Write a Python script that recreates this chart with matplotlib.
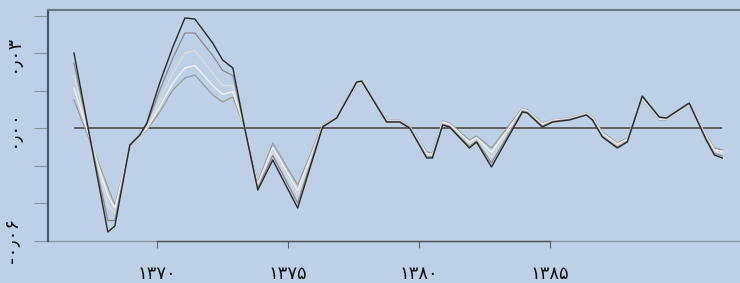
import matplotlib
matplotlib.use("Agg")
import matplotlib.pyplot as plt

plt.rcParams['font.family'] = ['DejaVu Sans']

# x positions (years, Persian calendar) of the line vertices
years = [1366.84, 1368.13, 1368.40, 1368.97, 1369.35, 1369.62, 1370.11, 1370.61,
         1371.07, 1371.45, 1372.13, 1372.51, 1372.90, 1373.35, 1373.85, 1374.42,
         1375.37, 1376.32, 1376.86, 1377.62, 1377.81, 1378.76, 1379.26, 1379.64,
         1380.29, 1380.51, 1380.90, 1381.16, 1381.92, 1382.19, 1382.76, 1383.94,
         1384.13, 1384.70, 1385.09, 1385.73, 1386.38, 1386.61, 1386.99, 1387.56,
         1387.94, 1388.51, 1389.16, 1389.43, 1390.30, 1390.95, 1391.26, 1391.56]

# outermost (dark) series
s_dark = [0.030, -0.0416, -0.0392, -0.0068, -0.0028, 0.0020, 0.018, 0.0324,
          0.044, 0.0436, 0.034, 0.0272, 0.024, 0.0, -0.0248, -0.0128,
          -0.032, 0.0004, 0.004, 0.0184, 0.0188, 0.0024, 0.0024, 0.0,
          -0.012, -0.012, 0.0012, 0.0004, -0.008, -0.0056, -0.0156, 0.0064,
          0.006, 0.0004, 0.0024, 0.0032, 0.0052, 0.0032, -0.0036, -0.008,
          -0.0056, 0.0128, 0.0044, 0.004, 0.010, -0.0048, -0.0108, -0.012]

s_mid1 = [0.026, -0.037, -0.037, -0.0072, -0.003, 0.0015, 0.015, 0.028,
          0.038, 0.038, 0.029, 0.023, 0.021, 0.0, -0.024, -0.011,
          -0.030, 0.0006, 0.0042, 0.0182, 0.0186, 0.0026, 0.0026, 0.0002,
          -0.0115, -0.0115, 0.0015, 0.0007, -0.0074, -0.0052, -0.014, 0.0068,
          0.0063, 0.0007, 0.0026, 0.0034, 0.0053, 0.0034, -0.0033, -0.0076,
          -0.0053, 0.0125, 0.0042, 0.0038, 0.0098, -0.0044, -0.0102, -0.0112]

s_mid2 = [0.021, -0.031, -0.034, -0.0075, -0.0032, 0.0006, 0.011, 0.022,
          0.030, 0.031, 0.022, 0.017, 0.017, 0.0, -0.0232, -0.0095,
          -0.027, 0.0008, 0.0042, 0.0178, 0.0182, 0.0028, 0.0028, 0.0004,
          -0.0108, -0.011, 0.002, 0.0012, -0.0064, -0.0044, -0.0118, 0.0072,
          0.0066, 0.0012, 0.0029, 0.0036, 0.0056, 0.0038, -0.0026, -0.0068,
          -0.0048, 0.012, 0.0038, 0.0036, 0.0095, -0.0036, -0.0094, -0.0100]

s_mid3 = [0.016, -0.027, -0.032, -0.0078, -0.0034, -0.0002, 0.0085, 0.018,
          0.024, 0.025, 0.017, 0.0135, 0.0145, 0.0, -0.0224, -0.0078,
          -0.025, 0.001, 0.0043, 0.0175, 0.0179, 0.003, 0.003, 0.0006,
          -0.0102, -0.0105, 0.0024, 0.0016, -0.0056, -0.0038, -0.0098, 0.0076,
          0.0069, 0.0016, 0.0031, 0.0038, 0.0058, 0.0041, -0.0021, -0.0064,
          -0.0044, 0.0116, 0.0035, 0.0034, 0.0093, -0.0032, -0.0087, -0.0094]

# innermost series
s_light = [0.0112, -0.0236, -0.0308, -0.008, -0.0036, -0.0008, 0.0064, 0.0152,
           0.020, 0.0212, 0.0132, 0.0104, 0.0124, 0.0, -0.0216, -0.006,
           -0.0228, 0.0012, 0.0044, 0.0172, 0.0176, 0.0032, 0.0032, 0.0008,
           -0.0096, -0.010, 0.0028, 0.002, -0.0048, -0.0032, -0.008, 0.008,
           0.0072, 0.002, 0.0032, 0.004, 0.006, 0.0044, -0.0016, -0.006,
           -0.004, 0.0112, 0.0032, 0.0032, 0.0092, -0.0028, -0.008, -0.0088]

x_ticks = [1370, 1375, 1380, 1385]
x_labels = ['۱۳۷۰', '۱۳۷۵', '۱۳۸۰', '۱۳۸۵']
y_ticks = [0.045, 0.03, 0.015, 0.0, -0.015, -0.03, -0.045]
y_labels = ['', '۰٫۰۳', '', '۰٫۰۰', '', '', '-۰٫۰۶']

bg = '#bdd0e6'
fig = plt.figure(figsize=(7.40, 2.83), dpi=100, facecolor=bg)
ax = fig.add_axes([48/740, (283-241)/283, (760-48)/740, (241-10)/283])
ax.set_facecolor(bg)

series = [(s_light, '#9a9a9a', 0.9), (s_mid3, '#f2f2f2', 1.0),
          (s_mid2, '#dcdcdc', 1.0), (s_mid1, '#8a8a8a', 0.9),
          (s_dark, '#2a2a2a', 1.0)]
for s, c, lw in series:
    ax.plot(years, s, color=c, lw=lw, zorder=3)

ax.hlines(0, min(years), max(years), color='#555555', lw=1.3, zorder=2)

ax.set_xlim(1365.85, 1393.0)
ax.set_ylim(-0.0452, 0.0472)

ax.set_xticks(x_ticks)
ax.set_xticklabels(x_labels, fontsize=13, color='#111111')
ax.set_yticks(y_ticks)
ax.set_yticklabels(y_labels, fontsize=14, rotation=90, va='center', color='#111111')
ax.tick_params(axis='x', length=5, width=0.8, color='#666666', pad=12)
ax.tick_params(axis='y', length=10, width=0.8, color='#8a94a0', pad=9)

ax.spines['right'].set_visible(False)
ax.spines['top'].set_color('#6d7886')
ax.spines['top'].set_linewidth(1.5)
ax.spines['left'].set_color('#4a5870')
ax.spines['left'].set_linewidth(1.6)
ax.spines['bottom'].set_bounds(1370, 1385)
ax.spines['bottom'].set_color('#555555')
ax.spines['bottom'].set_linewidth(1.0)
ax.plot([0, 1], [0, 0], transform=ax.transAxes, color='#8e99a6', lw=1.0,
        clip_on=False, zorder=1)

fig.savefig('out.png', dpi=100, facecolor=bg)
